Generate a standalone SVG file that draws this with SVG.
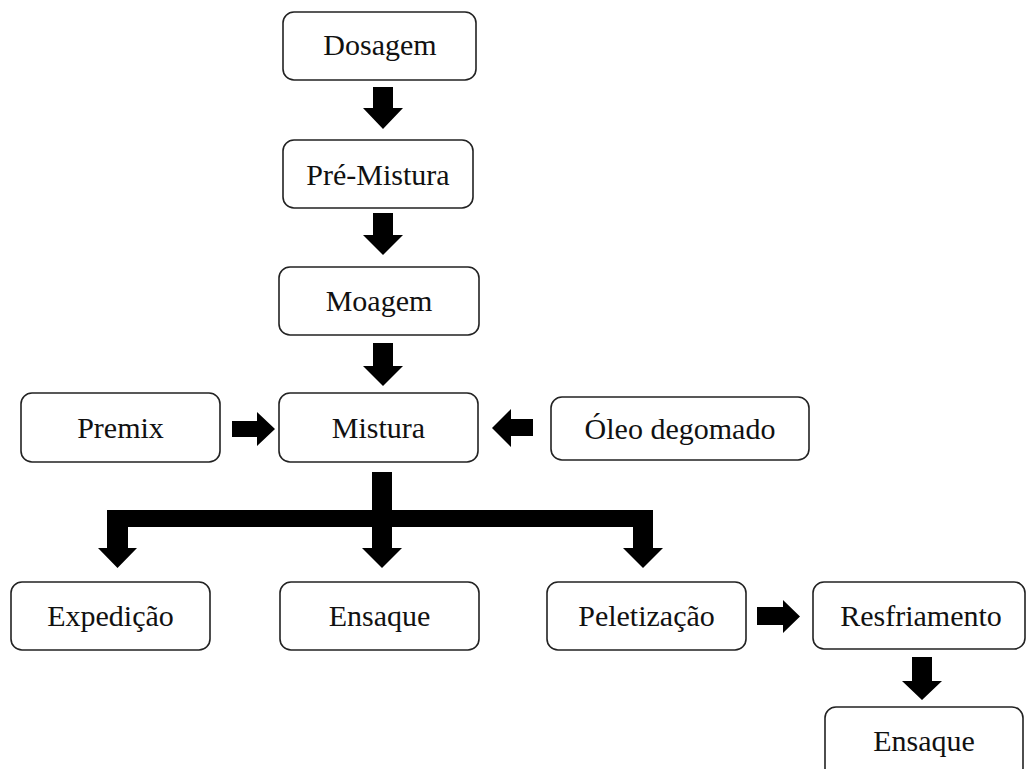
<svg xmlns="http://www.w3.org/2000/svg" width="1027" height="769" viewBox="0 0 1027 769">
<style>
.box{fill:#fff;stroke:#222;stroke-width:1.6}
.lbl{font-size:30px;fill:#111;text-anchor:middle}
.arr{fill:#000}
</style>
<rect width="1027" height="769" fill="#fff"/>
<g id="connectors">
<polygon class="arr" points="373,87 393,87 393,108 403,108 383,129 363,108 373,108"/>
<polygon class="arr" points="373,213 393,213 393,235 403,235 383,255 363,235 373,235"/>
<polygon class="arr" points="373,343 393,343 393,366 403,366 383,386 363,366 373,366"/>
<polygon class="arr" points="232,421 257,421 257,412 275,429 257,446 257,437 232,437"/>
<polygon class="arr" points="533,419 511,419 511,409 492,428 511,447 511,436 533,436"/>
<polygon class="arr" points="372,472 392,472 392,510 653,510 653,548 663,548 643,568 623,548 633,548 633,527 392,527 392,548 402,548 382,568 362,548 372,548 372,527 128,527 128,548 137,548 117.5,568 98,548 107,548 107,510 372,510"/>
<polygon class="arr" points="757,607 783,607 783,600 800,616.5 783,633 783,625 757,625"/>
<polygon class="arr" points="912,657 932,657 932,681 942,681 922,700 902,681 912,681"/>
</g>
<g font-family="Liberation Serif, Times New Roman, serif">
<g id="n-dosagem"><rect class="box" x="283" y="12" width="193" height="68" rx="11"/><text class="lbl" x="380" y="55">Dosagem</text></g>
<g id="n-premistura"><rect class="box" x="283" y="140" width="190" height="68" rx="11"/><text class="lbl" x="378" y="185">Pré-Mistura</text></g>
<g id="n-moagem"><rect class="box" x="279" y="267" width="200" height="68" rx="11"/><text class="lbl" x="379" y="311">Moagem</text></g>
<g id="n-mistura"><rect class="box" x="279" y="393" width="199" height="69" rx="11"/><text class="lbl" x="378.5" y="438">Mistura</text></g>
<g id="n-premix"><rect class="box" x="21" y="393" width="199" height="69" rx="11"/><text class="lbl" x="120.5" y="438">Premix</text></g>
<g id="n-oleo"><rect class="box" x="551" y="397" width="258" height="63" rx="11"/><text class="lbl" x="680" y="439">Óleo degomado</text></g>
<g id="n-expedicao"><rect class="box" x="11" y="582" width="199" height="68" rx="11"/><text class="lbl" x="110.5" y="626">Expedição</text></g>
<g id="n-ensaque1"><rect class="box" x="280" y="582" width="199" height="68" rx="11"/><text class="lbl" x="379.5" y="626">Ensaque</text></g>
<g id="n-peletizacao"><rect class="box" x="547" y="582" width="199" height="68" rx="11"/><text class="lbl" x="646.5" y="626">Peletização</text></g>
<g id="n-resfriamento"><rect class="box" x="813" y="582" width="212" height="67" rx="11"/><text class="lbl" x="921" y="626">Resfriamento</text></g>
<g id="n-ensaque2"><rect class="box" x="825" y="707" width="198" height="72" rx="11"/><text class="lbl" x="924" y="751">Ensaque</text></g>
</g>
</svg>
